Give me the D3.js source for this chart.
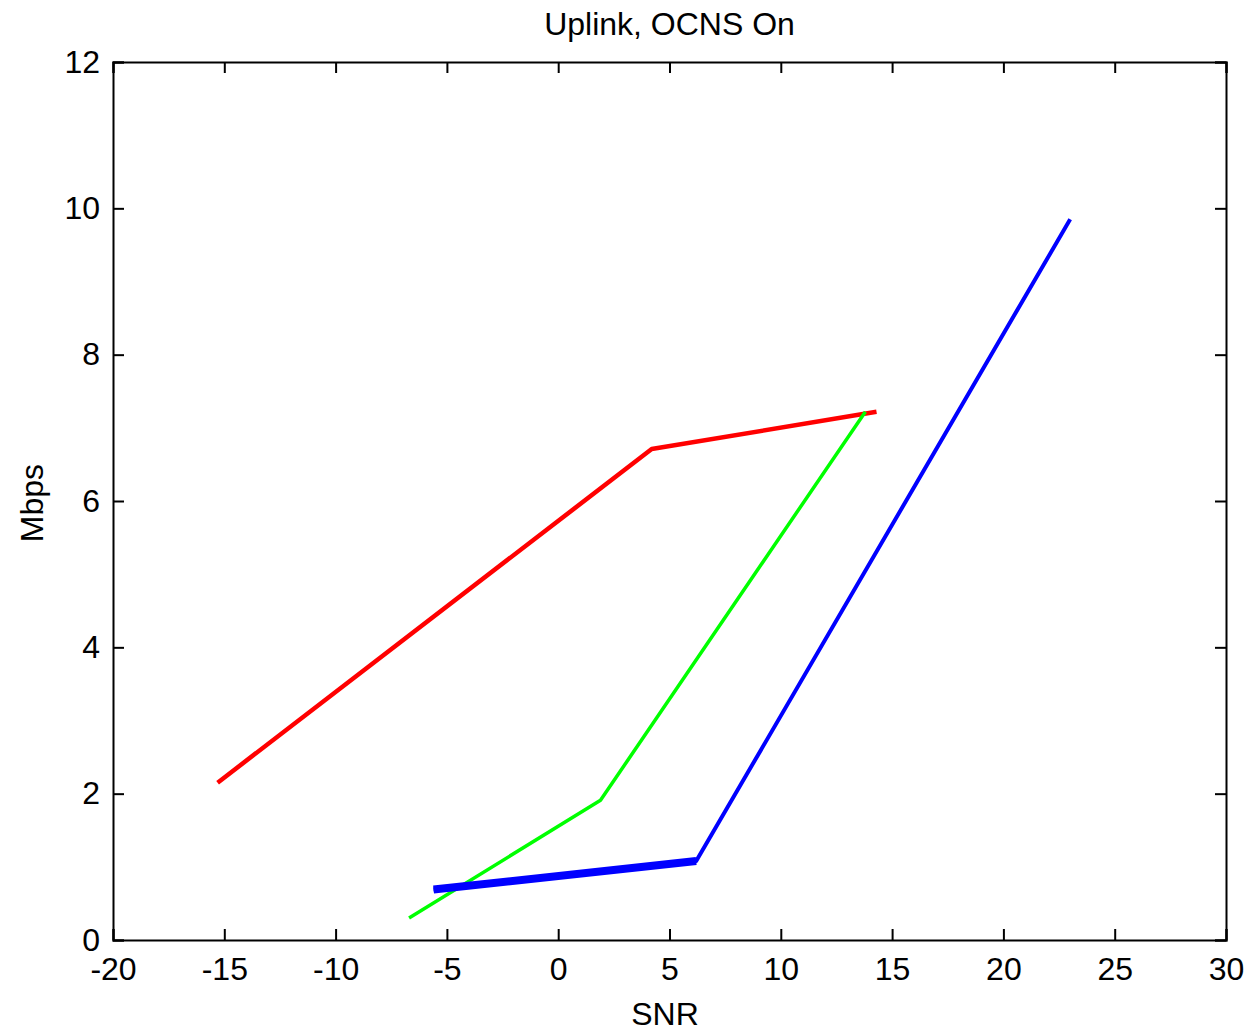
<!DOCTYPE html>
<html>
<head>
<meta charset="utf-8">
<script src="https://cdn.jsdelivr.net/npm/d3@7"></script>
<style>
  body { margin: 0; background: #fff; }
  text { font-family: "Liberation Sans", Arial, sans-serif; fill: #000; }
</style>
</head>
<body>
<svg id="chart"></svg>
<script>
// values
var xTicks = [-20, -15, -10, -5, 0, 5, 10, 15, 20, 25, 30]
var yTicks = [0, 2, 4, 6, 8, 10, 12]

var redSNR = [-15.3, 4.2, 14.3]
var redMbps = [2.15, 6.71, 7.22]

var greenSNR = [-6.7, 1.9, 13.8]
var greenMbps = [0.30, 1.91, 7.22]

var blueSNR = [-5.6, 6.2, 23.0]
var blueMbps = [0.69, 1.08, 9.85]

var series = [
	{name: 'red', snr: redSNR, mbps: redMbps},
	{name: 'green', snr: greenSNR, mbps: greenMbps},
	{name: 'blue', snr: blueSNR, mbps: blueMbps}
]

var W = 1247, H = 1031
var margin = {top: 62, right: 21, bottom: 91, left: 113},
	width = W - margin.left - margin.right,
	height = H - margin.top - margin.bottom

var svg = d3.select('#chart')
	.attr('width', W)
	.attr('height', H)

var g = svg.append('g')
	.attr('transform', 'translate(' + margin.left + ',' + margin.top + ')')

var x = d3.scaleLinear().domain([-20, 30]).range([0, width])
var y = d3.scaleLinear().domain([0, 12]).range([height, 0])

// axes, ticks pointing inward like matlab
var tickLen = 11
var fmt = d => String(d) // plain hyphen, not unicode minus
g.append('g')
	.attr('transform', 'translate(0,' + height + ')')
	.call(d3.axisBottom(x).tickValues(xTicks).tickSize(-tickLen).tickPadding(17).tickFormat(fmt))
g.append('g')
	.call(d3.axisTop(x).tickValues(xTicks).tickSize(-tickLen).tickFormat(''))
g.append('g')
	.call(d3.axisLeft(y).tickValues(yTicks).tickSize(-tickLen).tickPadding(13).tickFormat(fmt))
g.append('g')
	.attr('transform', 'translate(' + width + ',0)')
	.call(d3.axisRight(y).tickValues(yTicks).tickSize(-tickLen).tickFormat(''))

g.selectAll('.domain').attr('stroke', '#000').attr('stroke-width', 2)
g.selectAll('.tick line').attr('stroke', '#000').attr('stroke-width', 2)
g.selectAll('.tick text').style('font-size', '32px')

var line = d3.line()
	.x(d => x(d[0]))
	.y(d => y(d[1]))

var widths = {red: 4.5, green: 3.5, blue: 4}
var colors = {red: '#ff0000', green: '#00ff00', blue: '#0000ff'}

series.forEach(s => {
	var pts = s.snr.map((v, i) => [v, s.mbps[i]])
	g.append('path')
		.attr('d', line(pts))
		.attr('fill', 'none')
		.attr('stroke', colors[s.name])
		.attr('stroke-width', widths[s.name])
		.attr('stroke-linejoin', 'round')
	// the low part of the blue curve is drawn heavier in the reference
	if (s.name == 'blue') {
		g.append('path')
			.attr('d', line(pts.slice(0, 2)))
			.attr('fill', 'none')
			.attr('stroke', colors.blue)
			.attr('stroke-width', 8)
	}
})

// labels
svg.append('text')
	.attr('x', margin.left + width / 2)
	.attr('y', 35)
	.attr('text-anchor', 'middle')
	.style('font-size', '32px')
	.text('Uplink, OCNS On')

svg.append('text')
	.attr('x', 665)
	.attr('y', 1025)
	.attr('text-anchor', 'middle')
	.style('font-size', '32px')
	.text('SNR')

svg.append('text')
	.attr('transform', 'translate(43,' + (margin.top + height / 2 + 2) + ') rotate(-90)')
	.attr('text-anchor', 'middle')
	.style('font-size', '32px')
	.text('Mbps')
</script>
</body>
</html>
